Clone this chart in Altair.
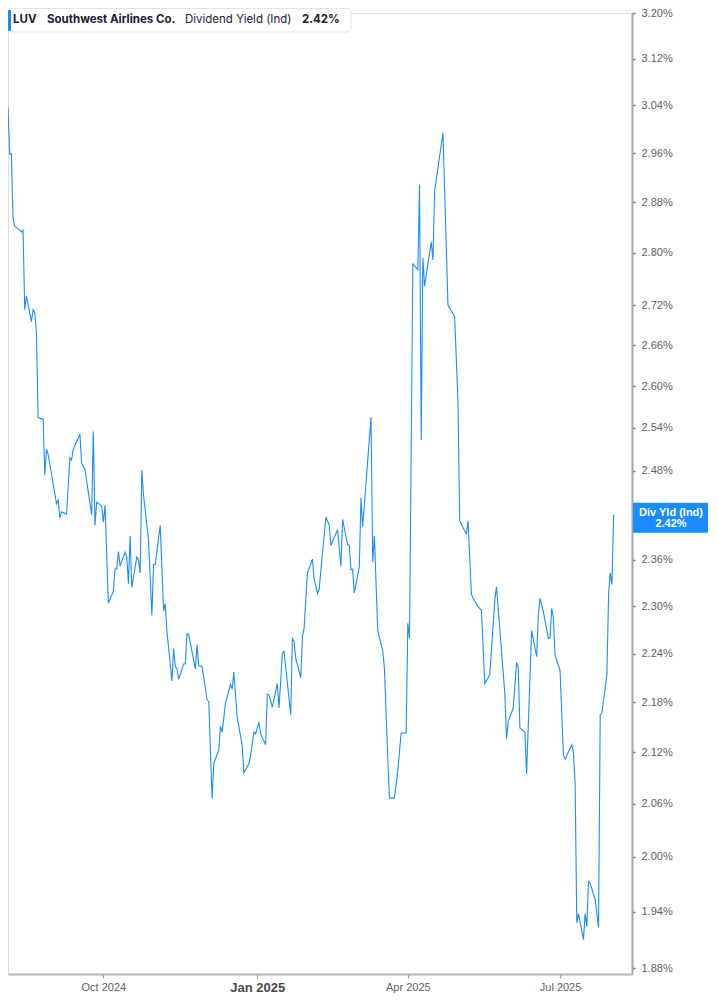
import altair as alt
import pandas as pd

# ---- data ----
dates = [
    "2024-08-05", "2024-08-06", "2024-08-07", "2024-08-08", "2024-08-09",
    "2024-08-12", "2024-08-13", "2024-08-14", "2024-08-15", "2024-08-16",
    "2024-08-19", "2024-08-20", "2024-08-21", "2024-08-22", "2024-08-23",
    "2024-08-26", "2024-08-27", "2024-08-28", "2024-08-29",
    "2024-09-03", "2024-09-04", "2024-09-05", "2024-09-06", "2024-09-09",
    "2024-09-11", "2024-09-12", "2024-09-13", "2024-09-17", "2024-09-18",
    "2024-09-20", "2024-09-24", "2024-09-25", "2024-09-26", "2024-09-27",
    "2024-09-30", "2024-10-01", "2024-10-02", "2024-10-04", "2024-10-07",
    "2024-10-08", "2024-10-09", "2024-10-10", "2024-10-11", "2024-10-14",
    "2024-10-15", "2024-10-16", "2024-10-17", "2024-10-18", "2024-10-21",
    "2024-10-22", "2024-10-23", "2024-10-24", "2024-10-25", "2024-10-28",
    "2024-10-30", "2024-10-31", "2024-11-01", "2024-11-04", "2024-11-06",
    "2024-11-07", "2024-11-08", "2024-11-11", "2024-11-12", "2024-11-13",
    "2024-11-14", "2024-11-15", "2024-11-18", "2024-11-19", "2024-11-20",
    "2024-11-21", "2024-11-25", "2024-11-26", "2024-11-27", "2024-11-29",
    "2024-12-02", "2024-12-03", "2024-12-05", "2024-12-06", "2024-12-09",
    "2024-12-10", "2024-12-11", "2024-12-13", "2024-12-16", "2024-12-17",
    "2024-12-18", "2024-12-20", "2024-12-23", "2024-12-24", "2024-12-27",
    "2024-12-28", "2024-12-30", "2024-12-31",
    "2025-01-02", "2025-01-03", "2025-01-06", "2025-01-07", "2025-01-08",
    "2025-01-10", "2025-01-13", "2025-01-14", "2025-01-16", "2025-01-17",
    "2025-01-21", "2025-01-22", "2025-01-23", "2025-01-24", "2025-01-27",
    "2025-01-28", "2025-01-29", "2025-01-31", "2025-02-03", "2025-02-04",
    "2025-02-06", "2025-02-07", "2025-02-11", "2025-02-13", "2025-02-14",
    "2025-02-18", "2025-02-20", "2025-02-21", "2025-02-24", "2025-02-25",
    "2025-02-26", "2025-02-27", "2025-02-28", "2025-03-03", "2025-03-04",
    "2025-03-05", "2025-03-10", "2025-03-11", "2025-03-12", "2025-03-14",
    "2025-03-17", "2025-03-18", "2025-03-20", "2025-03-21", "2025-03-24",
    "2025-03-26", "2025-03-28", "2025-03-31", "2025-04-01", "2025-04-02",
    "2025-04-04", "2025-04-07", "2025-04-08", "2025-04-09", "2025-04-10",
    "2025-04-11", "2025-04-15", "2025-04-16", "2025-04-17", "2025-04-22",
    "2025-04-25", "2025-04-29", "2025-05-01", "2025-05-02", "2025-05-06",
    "2025-05-07", "2025-05-09", "2025-05-10", "2025-05-13", "2025-05-15",
    "2025-05-17", "2025-05-20", "2025-05-23", "2025-05-24", "2025-05-29",
    "2025-05-30", "2025-05-31", "2025-06-03", "2025-06-05", "2025-06-06",
    "2025-06-07", "2025-06-10", "2025-06-11", "2025-06-14", "2025-06-17",
    "2025-06-18", "2025-06-19", "2025-06-21", "2025-06-24", "2025-06-25",
    "2025-06-26", "2025-06-27", "2025-06-28", "2025-07-01", "2025-07-03",
    "2025-07-04", "2025-07-08", "2025-07-09", "2025-07-10", "2025-07-11",
    "2025-07-12", "2025-07-15", "2025-07-16", "2025-07-17", "2025-07-18",
    "2025-07-19", "2025-07-22", "2025-07-24", "2025-07-25", "2025-07-26",
    "2025-07-29", "2025-07-30", "2025-07-31", "2025-08-01", "2025-08-02",
]

div_yield = [
    3.037, 2.959, 2.959, 2.855, 2.842,
    2.836, 2.833, 2.836, 2.713, 2.734,
    2.695, 2.713, 2.708, 2.678, 2.555,
    2.552, 2.474, 2.510, 2.503,
    2.435, 2.440, 2.416, 2.424, 2.421,
    2.498, 2.495, 2.510, 2.531, 2.491,
    2.482, 2.420, 2.535, 2.406, 2.437,
    2.432, 2.410, 2.433, 2.304, 2.319,
    2.348, 2.348, 2.371, 2.352, 2.370,
    2.364, 2.329, 2.392, 2.324, 2.364,
    2.360, 2.343, 2.481, 2.447, 2.386,
    2.288, 2.354, 2.354, 2.406, 2.294,
    2.303, 2.268, 2.206, 2.246, 2.224,
    2.221, 2.208, 2.227, 2.227, 2.265,
    2.264, 2.221, 2.251, 2.225, 2.224,
    2.183, 2.181, 2.066, 2.107, 2.123,
    2.151, 2.144, 2.179, 2.202, 2.196,
    2.217, 2.162, 2.128, 2.096, 2.107,
    2.116, 2.144, 2.142,
    2.156, 2.142, 2.129, 2.190, 2.189,
    2.174, 2.203, 2.173, 2.240, 2.243,
    2.165, 2.259, 2.255, 2.234, 2.210,
    2.261, 2.272, 2.343, 2.361, 2.335,
    2.316, 2.322, 2.417, 2.406, 2.379,
    2.400, 2.352, 2.414, 2.380, 2.379,
    2.347, 2.348, 2.317, 2.351, 2.443,
    2.404, 2.555, 2.357, 2.392, 2.269,
    2.243, 2.222, 2.113, 2.067, 2.067,
    2.098, 2.143, 2.143, 2.278, 2.259,
    2.783, 2.774, 2.909, 2.523, 2.792,
    2.749, 2.817, 2.789, 2.898, 2.994,
    2.720, 2.702, 2.575, 2.412, 2.394,
    2.412, 2.316, 2.310, 2.299, 2.295,
    2.203, 2.214, 2.308, 2.325, 2.190,
    2.136, 2.157, 2.173, 2.229, 2.222,
    2.149, 2.144, 2.095, 2.269, 2.236,
    2.289, 2.310, 2.293, 2.259, 2.260,
    2.297, 2.285, 2.238, 2.219, 2.117,
    2.112, 2.129, 2.120, 2.084, 1.928,
    1.938, 1.910, 1.938, 1.924, 1.973,
    1.971, 1.953, 1.923, 2.165, 2.167,
    2.214, 2.315, 2.343, 2.328, 2.420,
]

# axis labels shown (2.42% sits under the value badge)
y_ticks = [1.88, 1.94, 2.00, 2.06, 2.12, 2.18, 2.24, 2.30, 2.36, 2.48,
           2.54, 2.60, 2.66, 2.72, 2.80, 2.88, 2.96, 3.04, 3.12, 3.20]

ticker = "LUV"
company = "Southwest Airlines Co."
metric = "Dividend Yield (Ind)"
badge_label = "Div Yld (Ind)"

# ---- build tables ----
df = pd.DataFrame({"date": [d + "T00:00:00" for d in dates], "yield": div_yield})
last = pd.DataFrame({"date": [dates[-1] + "T00:00:00"], "yield": [div_yield[-1]]})

BLUE = "#1a8cff"
W, H = 624, 961
TOP = 5

x_scale = alt.Scale(
    domain=[alt.DateTime(year=2024, month=8, date=5),
            alt.DateTime(year=2025, month=8, date=13)],
    nice=False,
)
x_axis = alt.Axis(
    values=[alt.DateTime(year=2024, month=10, date=1),
            alt.DateTime(year=2025, month=1, date=1),
            alt.DateTime(year=2025, month=4, date=1),
            alt.DateTime(year=2025, month=7, date=1)],
    format="%b %Y",
    title=None,
    grid=False,
    domainColor="#b5b5b5",
    domainWidth=2,
    tickColor="#9a9a9a",
    tickSize=4,
    tickWidth=1,
    labelPadding=3,
    labelFont="Liberation Sans",
    labelFontSize={"condition": {"test": "month(datum.value) == 0", "value": 13}, "value": 11},
    labelFontWeight={"condition": {"test": "month(datum.value) == 0", "value": "bold"}, "value": "normal"},
    labelColor={"condition": {"test": "month(datum.value) == 0", "value": "#4a4a4a"}, "value": "#5f5f5f"},
)

y_scale = alt.Scale(type="log", domain=[1.8738, 3.2005], nice=False, zero=False)
y_axis = alt.Axis(
    orient="right",
    values=y_ticks,
    labelExpr="format(datum.value, '.2f') + '%'",
    title=None,
    grid=False,
    domainColor="#a8a8a8",
    domainWidth=2,
    tickColor="#777777",
    tickSize=3,
    tickWidth=1.5,
    labelPadding=6,
    labelFont="Liberation Sans",
    labelFontSize=11,
    labelColor="#5f5f5f",
)

y_enc = alt.Y("yield:Q", scale=y_scale, axis=y_axis)

line = alt.Chart(df).mark_line(color=BLUE, strokeWidth=1.1).encode(
    x=alt.X("date:T", scale=x_scale, axis=x_axis),
    y=y_enc,
)

badge_rect = alt.Chart(last).mark_rect(
    color=BLUE, yOffset=-12, y2Offset=18
).encode(
    x=alt.value(625), x2=alt.value(701),
    y=y_enc, y2=alt.Y2("yield"),
)

badge_txt1 = alt.Chart(last).mark_text(
    color="white", fontWeight="bold", font="Liberation Sans", fontSize=11,
    align="center", baseline="middle", dy=-2,
).encode(x=alt.value(663), y=y_enc, text=alt.value(badge_label))

badge_txt2 = alt.Chart(last).transform_calculate(
    lbl="format(datum.yield, '.2f') + '%'"
).mark_text(
    color="white", fontWeight="bold", font="Liberation Sans", fontSize=11,
    align="center", baseline="middle", dy=9,
).encode(x=alt.value(663), y=y_enc, text="lbl:N")

# ---- top-left legend box ----
legend_box = alt.Chart(last).mark_rect(
    fill="white", stroke="#e3e3e3", strokeWidth=1, cornerRadius=3
).encode(x=alt.value(0.5), x2=alt.value(343), y=alt.value(-TOP + 0.5), y2=alt.value(-TOP + 24))

legend_bar = alt.Chart(last).mark_rect(fill=BLUE, cornerRadius=1).encode(
    x=alt.value(0), x2=alt.value(3), y=alt.value(-TOP + 2), y2=alt.value(-TOP + 23)
)

def legend_text(txt, xpos, weight):
    return alt.Chart(last).mark_text(
        align="left", baseline="middle", font="Inter", fontSize=11.5,
        fontWeight=weight, color="#1c2030",
    ).encode(x=alt.value(xpos), y=alt.value(-TOP + 12), text=alt.value(txt))

leg1 = legend_text(ticker, 5, "bold")
leg2 = legend_text(company, 39, "bold")
leg3 = legend_text(metric, 177, "normal")
leg4 = alt.Chart(last).transform_calculate(
    lbl="format(datum.yield, '.2f') + '%'"
).mark_text(
    align="left", baseline="middle", font="Inter", fontSize=11.5,
    fontWeight="bold", color="#1c2030",
).encode(x=alt.value(294), y=alt.value(-TOP + 12), text="lbl:N")

chart = alt.layer(
    line, badge_rect, badge_txt1, badge_txt2,
    legend_box, legend_bar, leg1, leg2, leg3, leg4,
).properties(
    width=W, height=H,
    autosize=alt.AutoSizeParams(type="none"),
    padding={"left": 0, "top": TOP, "right": 76, "bottom": 20},
).configure_view(stroke=None).configure(background="white")

chart.save("out.html", embed_options={"renderer": "svg", "actions": False})
